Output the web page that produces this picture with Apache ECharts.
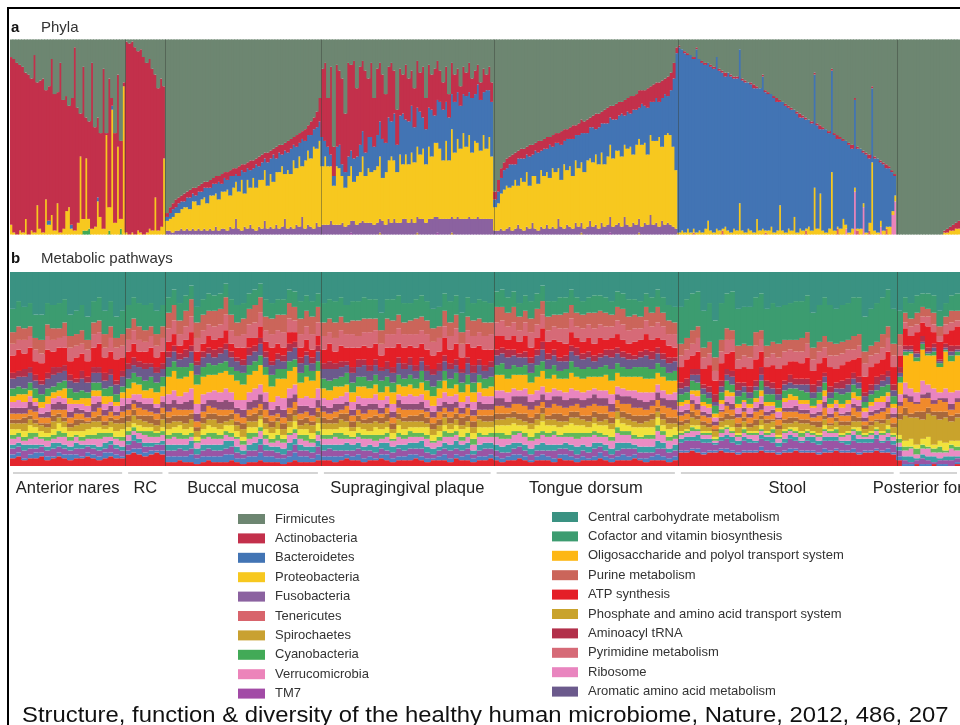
<!DOCTYPE html>
<html><head><meta charset="utf-8">
<script src="https://cdn.jsdelivr.net/npm/echarts@6/dist/echarts.min.js"></script>
<style>html,body{margin:0;padding:0;background:#fff;}#chart{width:960px;height:725px;}</style>
</head><body><div id="chart"></div>
<script>
// ---------------- categories ----------------
const sites = ['Anterior nares','RC','Buccal mucosa','Supragingival plaque','Tongue dorsum','Stool','Posterior fornix'];
const phylaSamplesPerSite = [40,14,54,60,64,76,22];
const pathwaySamplesPerSite = [20,7,27,30,32,38,11];

// ---------------- panel a: phyla (% of sample) ----------------
const actinobacteria = [
 86,89,88,85,85,75,82,78,91,63,76,79,56,69,80,70,57,87,66,59,52,65,94,59,22,78,21,50,85,51,41,43,82,1,66,4,46,37,40,2,
 98,98,98,96,92,94,91,87,87,83,63,73,76,37,
 2,3,3,4,3,3,4,3,4,3,4,3,4,3,3,4,3,4,3,5,3,4,3,4,3,5,3,4,3,5,4,3,5,4,3,5,4,3,6,4,5,4,6,5,4,6,5,4,6,5,7,6,8,12,
 35,40,25,45,15,42,38,44,30,48,44,50,35,40,36,42,30,38,25,34,30,33,25,26,30,22,18,24,20,28,22,18,20,24,20,26,16,22,18,24,20,16,14,18,12,16,14,12,10,14,12,15,10,12,10,9,12,8,12,10,
 4,6,5,4,5,4,5,6,4,5,5,4,6,5,4,6,5,5,6,4,6,5,5,7,6,5,6,7,5,6,7,6,7,5,6,8,7,6,7,8,6,7,8,7,6,8,7,9,7,8,9,7,8,10,8,9,8,10,9,8,10,9,8,3,
 1,0,1,1,0,1,1,0,1,1,0,1,1,0,1,1,2,0,1,1,1,0,1,1,0,1,2,1,0,1,1,1,0,1,2,1,0,1,1,1,0,1,2,1,1,0,1,1,1,2,1,0,1,1,1,2,1,1,0,1,2,1,1,0,1,1,2,1,1,0,1,1,2,1,1,1,
 0,0,0,0,0,0,0,0,0,0,0,0,0,0,0,0,1,2,2,3,3,4
];
const bacteroidetes = [
 0,0,0,0,0,0,0,0,0,0,0,0,0,2,0,0,0,0,0,0,0,2,0,0,0,0,0,0,0,0,2,0,0,0,0,2,0,0,0,0,
 0,0,0,0,0,0,0,0,0,0,0,0,0,0,
 2,3,4,3,5,4,3,5,6,4,3,7,4,5,8,4,6,5,9,4,7,5,10,6,4,8,5,11,6,9,5,12,7,9,6,12,8,14,7,10,6,12,9,13,8,11,7,14,10,8,12,9,11,10,
 15,8,10,6,5,10,12,6,8,10,8,12,10,14,13,12,16,18,12,16,18,20,15,22,18,24,14,20,26,18,22,24,18,20,22,16,18,20,24,14,22,24,26,20,22,18,26,24,22,20,26,22,28,24,30,26,22,30,24,28,
 4,6,8,10,9,12,11,8,14,10,12,9,15,11,13,16,10,14,12,17,11,15,13,18,12,16,14,19,13,17,15,20,14,16,18,13,19,15,21,17,14,20,16,18,22,15,19,17,23,18,16,21,19,24,17,20,22,18,25,21,19,23,35,60,
 95,93,92,89,91,87,94,88,87,84,81,84,84,88,82,80,77,81,80,77,78,79,77,77,75,75,74,67,73,78,71,70,68,69,66,53,66,65,62,62,55,61,57,58,56,55,55,58,53,33,52,53,49,52,49,45,46,40,43,45,41,45,41,41,26,40,33,38,37,38,30,34,30,30,20,10,
 0,0,0,0,0,0,0,0,0,0,0,0,0,0,0,0,0,0,0,0,0,0
];
const proteobacteria = [
 5,1,0,2,1,8,0,2,1,15,3,1,18,5,10,2,16,1,3,12,14,3,2,6,40,6,37,5,3,4,17,9,3,51,12,64,6,45,5,76,
 1,0,1,0,2,1,0,1,3,2,19,2,4,39,
 5,6,8,9,9,10,12,11,11,14,15,12,16,16,14,17,18,17,16,19,19,21,16,21,19,19,26,17,25,19,26,22,24,25,26,22,27,24,27,29,31,23,30,27,35,29,36,26,35,38,35,42,38,44,
 30,35,30,28,20,30,29,24,20,25,28,20,25,26,33,24,28,26,28,29,32,22,27,30,34,30,26,35,28,33,30,34,31,36,33,36,30,37,32,38,38,36,30,40,30,45,34,40,36,44,37,42,34,40,38,35,43,36,42,32,
 12,14,18,21,22,20,23,25,20,26,25,28,22,24,27,24,29,27,27,26,30,29,26,24,33,28,31,27,32,30,31,29,34,32,33,36,33,36,32,35,37,35,38,37,36,37,39,41,35,41,41,42,41,36,41,43,42,46,38,46,46,46,41,30,
 1,2,1,3,1,2,1,2,1,3,7,2,1,3,2,1,4,2,1,3,2,16,2,1,3,2,1,8,2,3,1,2,4,1,2,15,2,1,3,2,9,1,3,2,1,4,2,24,3,21,2,1,3,32,2,1,3,8,2,1,3,2,1,3,2,1,4,37,2,1,3,2,1,4,2,3,
 0,0,0,0,0,0,0,0,0,0,0,0,0,0,0,0,1,1,2,2,3,3
];
const fusobacteria = [
 0,0,0,0,0,0,0,0,0,0,0,0,0,0,0,0,0,0,0,0,0,0,0,0,0,0,0,0,0,0,0,0,0,0,0,0,0,0,0,0,
 0,0,0,0,0,0,0,0,0,0,0,0,0,0,
 2,2,1,2,2,3,2,3,2,3,2,3,2,3,2,3,2,4,2,3,3,2,4,3,8,3,2,4,3,5,3,2,4,3,7,3,4,3,5,3,4,8,3,4,3,5,4,9,3,5,4,3,6,4,
 5,5,5,7,5,5,5,6,4,5,6,7,5,6,7,6,6,6,5,6,7,7,5,8,6,8,6,6,8,8,6,8,6,8,8,8,6,8,8,9,8,8,8,8,8,8,8,9,8,8,8,9,8,8,9,8,8,8,8,8,
 2,2,3,2,3,4,2,3,5,3,2,4,3,6,3,2,4,3,5,3,4,3,8,4,3,5,4,3,6,4,5,3,4,7,4,5,3,6,4,5,8,4,5,6,4,9,5,4,6,5,7,4,6,5,10,5,6,4,7,5,6,5,4,3,
 0,0,0,0,0,0,0,0,0,0,0,0,0,0,0,0,0,0,0,0,0,0,0,0,0,0,0,0,0,0,0,0,0,0,0,0,0,0,0,0,0,0,0,0,0,0,0,0,0,0,0,0,0,0,0,0,0,0,0,0,0,0,0,0,0,0,0,0,0,0,0,0,0,0,0,0,
 0,0,0,0,0,0,0,0,0,0,0,0,0,0,0,0,0,0,0,0,0,0
];
const tenericutes = [
 0,0,0,0,0,0,0,0,0,0,0,0,0,0,0,0,0,0,0,0,0,0,0,0,0,0,0,0,0,0,0,0,0,0,0,0,0,0,0,0,
 0,0,0,0,0,0,0,0,0,0,0,0,0,0,
 0,0,0,0,0,0,0,0,0,0,0,0,0,0,0,0,0,0,0,0,0,0,0,0,0,0,0,0,0,0,0,0,0,0,0,0,0,0,0,0,0,0,0,0,0,0,0,0,0,0,0,0,0,0,
 0,0,0,0,0,0,0,0,0,0,0,0,0,0,0,0,0,0,0,0,0,0,0,0,0,0,0,0,0,0,0,0,0,0,0,0,0,0,0,0,0,0,0,0,0,0,0,0,0,0,0,0,0,0,0,0,0,0,0,0,
 0,0,0,0,0,0,0,0,0,0,0,0,0,0,0,0,0,0,0,0,0,0,0,0,0,0,0,0,0,0,0,0,0,0,0,0,0,0,0,0,0,0,0,0,0,0,0,0,0,0,0,0,0,0,0,0,0,0,0,0,0,0,0,0,
 0,0,0,0,0,1,0,0,0,0,0,0,0,0,0,2,0,0,0,0,0,0,0,0,0,0,0,0,0,0,1,0,0,0,0,0,0,0,0,0,0,0,0,0,2,0,0,0,0,0,0,0,0,0,0,3,0,0,0,0,0,0,2,0,0,0,2,0,0,0,0,0,3,0,0,0,
 0,0,0,0,0,0,0,0,0,0,0,0,0,0,0,0,0,0,0,0,0,0
];
const spirochaetes = [
 0,0,0,0,0,0,0,0,0,0,0,0,0,0,0,0,0,0,0,0,0,0,0,0,0,0,0,0,0,0,0,0,0,0,0,0,0,0,0,0,
 0,0,0,0,0,0,0,0,0,0,0,0,0,0,
 0,0,0,0,0,0,0,0,0,0,0,0,0,0,0,0,0,0,0,0,0,0,0,0,0,0,0,0,0,0,0,0,0,0,0,0,0,0,0,0,0,0,0,0,0,0,0,0,0,0,0,0,0,0,
 0,0,0,0,0,0,0,0,0,0,0,0,0,0,0,0,0,0,0,0,1,0,0,0,0,0,0,0,0,0,0,0,0,1,0,0,0,0,0,0,0,0,0,0,0,1,0,0,0,0,0,0,0,0,0,0,0,0,0,0,
 0,0,0,0,0,0,0,0,0,0,0,0,0,0,0,0,0,0,0,0,0,0,0,0,0,0,0,0,0,0,1,0,0,0,0,0,0,0,0,0,0,0,0,0,0,0,0,0,0,0,1,0,0,0,0,0,0,0,0,0,0,0,0,0,
 0,0,0,0,0,0,0,0,0,0,0,0,0,0,0,0,0,0,0,0,0,0,0,0,0,0,0,0,0,0,0,0,0,0,0,0,0,0,0,0,0,0,0,0,0,0,0,0,0,0,0,0,0,0,0,0,0,0,0,0,0,0,0,0,0,0,0,0,0,0,0,0,0,0,0,0,
 0,0,0,0,0,0,0,0,0,0,0,0,0,0,0,0,0,0,0,0,0,0
];
const cyanobacteria = [
 0,0,0,0,0,0,0,0,0,0,0,0,0,0,0,0,0,0,0,0,0,0,0,0,0,2,2,3,0,0,0,0,0,0,2,0,0,0,3,0,
 0,0,0,0,0,0,0,0,0,0,0,0,0,0,
 0,0,0,0,0,0,0,0,0,0,0,0,0,0,0,0,0,0,0,0,0,0,0,0,0,0,0,0,0,0,0,0,0,0,0,0,0,0,0,0,0,0,0,0,0,0,0,0,0,0,0,0,0,0,
 0,0,0,0,0,0,0,0,0,0,0,0,0,0,0,0,0,0,0,0,0,0,0,0,0,0,0,0,0,0,0,0,0,0,0,0,0,0,0,0,0,0,0,0,0,0,0,0,0,0,0,0,0,0,0,0,0,0,0,0,
 0,0,0,0,0,0,0,0,0,0,0,0,0,0,0,0,0,0,0,0,0,0,0,0,0,0,0,0,0,0,0,0,0,0,0,0,0,0,0,0,0,0,0,0,0,0,0,0,0,0,0,0,0,0,0,0,0,0,0,0,0,0,0,0,
 0,0,0,0,0,0,0,0,0,0,0,0,0,0,0,0,0,0,0,0,0,0,0,0,0,0,0,0,0,0,0,0,0,0,0,0,0,0,0,0,0,0,0,0,0,0,0,0,0,0,0,0,0,0,0,0,0,0,0,0,0,0,0,0,0,0,0,0,0,0,0,0,0,0,0,0,
 0,0,0,0,0,0,0,0,0,0,0,0,0,0,0,0,0,0,0,0,0,0
];
const verrucomicrobia = [
 0,0,0,0,0,0,0,0,0,0,0,0,0,0,0,0,0,0,0,0,0,0,0,0,0,0,0,0,0,0,0,0,0,0,0,0,0,0,0,0,
 0,0,0,0,0,0,0,0,0,0,0,0,0,0,
 0,0,0,0,0,0,0,0,0,0,0,0,0,0,0,0,0,0,0,0,0,0,0,0,0,0,0,0,0,0,0,0,0,0,0,0,0,0,0,0,0,0,0,0,0,0,0,0,0,0,0,0,0,0,
 0,0,0,0,0,0,0,0,0,0,0,0,0,0,0,0,0,0,0,0,0,0,0,0,0,0,0,0,0,0,0,0,0,0,0,0,0,0,0,0,0,0,0,0,0,0,0,0,0,0,0,0,0,0,0,0,0,0,0,0,
 0,0,0,0,0,0,0,0,0,0,0,0,0,0,0,0,0,0,0,0,0,0,0,0,0,0,0,0,0,0,0,0,0,0,0,0,0,0,0,0,0,0,0,0,0,0,0,0,0,0,0,0,0,0,0,0,0,0,0,0,0,0,0,0,
 0,0,0,0,0,0,0,0,0,0,0,0,0,0,0,0,0,0,0,0,0,0,0,0,0,0,0,0,0,0,0,0,0,0,0,0,0,0,0,0,0,0,0,0,0,0,0,0,0,0,0,0,0,0,0,0,0,0,3,0,0,22,0,0,14,0,0,0,0,0,4,0,0,0,10,17,
 0,0,0,0,0,0,0,0,0,0,0,0,0,0,0,0,0,0,0,0,0,0
];
const tm7 = [
 0,0,0,0,0,0,0,0,0,0,0,0,0,0,0,0,0,0,0,0,0,0,0,0,0,0,0,0,0,0,0,0,0,0,0,0,0,0,0,0,
 0,0,0,0,0,0,0,0,0,0,0,0,0,0,
 0,0,0,0,0,0,0,0,0,0,0,0,0,0,0,0,0,0,0,0,0,0,0,0,0,0,0,0,0,0,0,0,0,0,0,0,0,0,0,0,0,0,0,0,0,0,0,0,0,0,0,0,0,0,
 0,0,0,0,0,0,0,0,0,0,1,0,0,0,0,0,0,0,0,0,0,0,0,0,0,0,0,0,0,0,0,0,0,0,0,0,0,0,0,0,1,0,0,0,0,0,0,0,0,0,0,0,0,0,0,0,0,0,0,0,
 0,0,0,0,0,0,0,0,0,0,0,0,0,0,0,0,0,0,0,0,0,0,0,0,0,0,0,0,0,0,0,0,0,0,0,0,0,0,0,0,1,0,0,0,0,0,0,0,0,0,0,0,0,0,0,0,0,0,0,0,0,0,0,0,
 0,0,0,0,0,0,0,0,0,0,0,0,0,0,0,0,0,0,0,0,0,0,0,0,0,0,0,0,0,0,0,0,0,0,0,0,0,0,0,0,0,0,0,0,0,0,0,0,0,0,0,0,0,0,0,0,0,0,0,0,0,0,0,0,0,0,0,0,0,0,0,0,0,0,0,0,
 0,0,0,0,0,0,0,0,0,0,0,0,0,0,0,0,0,0,0,0,0,0
];

// ---------------- panel b: metabolic pathway layers (% of sample), bottom band first ----------------
const pwOtherRed = [4,5,3,4,4,5,3,4,5,4,3,4,4,5,4,3,4,5,4,4, 6,7,6,5,6,7,6, 2,2,3,2,2,1,2,3,2,2,2,3,2,1,2,2,3,2,2,2,1,2,3,2,2,2,3, 3,3,2,3,4,3,3,2,3,3,4,3,2,3,3,3,4,3,2,3,3,3,2,4,3,3,2,3,3,4, 3,2,3,3,4,3,2,3,3,3,2,4,3,3,2,3,3,3,4,3,2,3,3,3,4,3,2,3,3,3,2,3, 7,7,8,7,6,7,7,8,7,7,6,7,7,7,8,7,7,6,7,7,8,7,7,7,6,7,7,8,7,7,7,6,7,7,8,7,7,6, 3,0,0,1,0,0,1,0,0,0,1];
const pwOtherBlue = [2,2,1,2,3,2,2,1,2,2,3,2,1,2,2,2,3,2,2,1, 2,2,3,2,2,1,2, 3,3,2,3,4,3,3,2,3,3,4,3,2,3,3,3,4,3,3,2,3,3,4,3,3,2,3, 2,2,3,2,2,2,3,2,2,1,2,3,2,2,2,3,2,2,2,1,2,3,2,2,2,3,2,2,2,2, 2,2,2,3,2,2,1,2,3,2,2,2,3,2,2,2,1,2,3,2,2,2,3,2,2,1,2,2,3,2,2,2, 1,1,1,2,1,1,1,1,2,1,1,1,1,1,2,1,1,1,1,2,1,1,1,1,1,2,1,1,1,1,2,1,1,1,1,1,2,1, 2,1,1,0,1,1,0,1,1,0,1];
const pwOtherPurple = [3,3,4,3,2,3,3,4,3,3,2,3,4,3,3,3,2,4,3,3, 3,4,3,3,2,3,3, 3,3,4,3,3,2,3,4,3,3,3,4,3,2,3,3,4,3,3,3,2,3,4,3,3,3,4, 3,4,3,3,2,3,3,4,3,3,3,2,3,4,3,3,3,4,3,2,3,3,4,3,3,3,2,3,4,3, 3,3,2,3,4,3,3,3,2,3,4,3,3,3,2,3,3,4,3,3,2,3,3,4,3,3,3,2,3,4,3,3, 4,5,4,4,5,4,3,4,5,4,4,5,4,4,4,5,4,3,4,5,4,4,5,4,4,4,5,4,4,3,4,5,4,4,5,4,4,4, 3,2,1,2,3,2,1,2,2,3,2];
const pwOtherTeal = [2,2,3,2,2,1,2,3,2,2,2,3,2,1,2,2,3,2,2,2, 2,3,2,2,2,1,2, 3,3,2,3,4,3,3,2,3,3,4,3,3,2,3,4,3,3,2,3,3,4,3,3,2,3,3, 3,2,3,3,4,3,3,2,3,3,3,4,3,2,3,3,3,4,3,3,2,3,3,4,3,3,2,3,3,3, 3,3,4,3,2,3,3,3,4,3,3,2,3,3,4,3,3,3,2,3,3,4,3,3,2,3,3,3,4,3,2,3, 2,2,2,3,2,2,1,2,2,3,2,2,2,1,2,2,3,2,2,2,2,1,2,3,2,2,2,2,1,2,3,2,2,2,2,1,2,2, 2,2,3,1,2,2,3,1,2,2,1];
const pwOtherPink = [3,3,2,3,4,3,3,2,3,4,3,3,2,3,3,4,3,2,3,3, 3,2,3,4,3,3,3, 3,4,3,3,2,3,3,4,3,3,3,2,4,3,3,3,4,3,2,3,3,4,3,3,3,2,3, 3,3,4,3,2,3,3,4,3,3,2,3,3,4,3,3,3,2,4,3,3,3,4,3,2,3,3,4,3,3, 4,4,3,4,5,4,4,3,4,4,5,4,3,4,4,4,5,4,3,4,4,5,4,4,3,4,4,4,5,4,4,3, 2,2,3,2,2,2,1,2,3,2,2,2,2,3,2,1,2,2,3,2,2,2,2,1,2,3,2,2,2,3,2,2,1,2,2,3,2,2, 2,3,4,2,3,4,2,3,2,4,3];
const pwOtherGreen = [2,2,2,3,2,1,2,2,3,2,2,1,2,2,2,3,2,2,1,2, 2,2,1,2,3,2,2, 2,2,3,2,2,1,2,2,3,2,2,2,1,2,3,2,2,2,2,3,2,1,2,2,3,2,2, 2,2,2,3,2,1,2,2,2,3,2,2,1,2,2,3,2,2,2,1,2,3,2,2,2,2,3,2,1,2, 2,3,2,2,1,2,2,3,2,2,2,1,2,2,3,2,2,2,2,1,2,3,2,2,2,1,2,2,3,2,2,2, 1,1,2,1,1,1,1,2,1,1,1,2,1,1,1,1,2,1,1,1,1,2,1,1,1,1,1,2,1,1,1,2,1,1,1,1,2,1, 2,2,1,3,2,1,2,3,1,2,2];
const pwOtherYellow = [3,2,3,4,3,3,2,3,4,3,3,2,3,3,4,3,2,3,3,4, 2,2,3,2,2,1,2, 3,3,4,3,3,2,3,4,3,3,3,4,3,2,3,3,4,3,3,3,2,3,4,3,3,3,4, 3,3,2,3,4,3,3,3,2,4,3,3,3,4,3,2,3,3,4,3,3,3,2,3,4,3,3,3,4,3, 4,4,5,4,3,4,4,4,5,4,3,4,4,5,4,4,3,4,4,5,4,4,4,3,4,5,4,4,4,3,4,4, 1,1,1,2,1,1,1,1,1,2,1,1,1,1,2,1,1,1,1,1,2,1,1,1,1,2,1,1,1,1,1,2,1,1,1,1,2,1, 2,3,4,2,3,5,2,3,4,2,3];
const pwPhosphateAminoTransport = [3,3,4,3,2,3,3,4,3,3,2,3,4,3,3,3,2,3,4,3, 3,4,3,3,2,3,4, 3,3,2,3,4,3,3,3,4,3,2,3,3,4,3,3,2,3,3,4,3,3,3,2,3,4,3, 3,3,3,4,3,2,3,3,4,3,3,3,2,3,4,3,3,3,2,3,3,4,3,3,2,3,3,4,3,3, 3,3,4,3,3,2,3,3,4,3,3,3,2,3,4,3,3,3,2,3,3,4,3,3,3,2,3,4,3,3,3,2, 3,3,4,3,3,2,3,3,3,4,3,3,2,3,3,4,3,3,3,2,3,4,3,3,3,3,2,3,4,3,3,3,2,3,3,4,3,3, 8,13,11,14,10,12,15,11,13,10,12];
const pwOtherBrown = [2,2,3,2,2,1,2,3,2,2,2,3,2,1,2,3,2,2,2,3, 3,3,2,3,4,3,3, 3,3,3,4,3,2,3,3,3,4,3,3,2,3,3,4,3,3,3,2,3,4,3,3,3,2,3, 3,2,3,3,4,3,3,2,3,3,3,4,3,3,2,3,3,4,3,3,3,2,3,3,4,3,3,2,3,3, 3,3,2,3,3,4,3,3,3,2,3,4,3,3,3,2,3,3,4,3,3,2,3,3,3,4,3,3,2,3,3,3, 2,2,3,2,2,2,1,2,3,2,2,2,2,3,2,2,1,2,2,3,2,2,2,2,3,2,1,2,2,2,3,2,2,2,1,2,3,2, 3,4,2,3,4,3,2,4,3,3,2];
const pwOtherOrange = [3,3,2,3,4,3,3,3,2,4,3,3,3,2,3,4,3,3,2,3, 3,3,4,3,2,3,3, 3,4,3,3,2,3,3,4,3,3,3,2,4,3,3,3,3,4,3,2,3,3,4,3,3,3,2, 3,3,3,2,4,3,3,3,4,3,2,3,3,3,4,3,3,2,3,3,4,3,3,3,2,4,3,3,3,3, 4,4,3,4,5,4,4,4,3,4,5,4,4,3,4,4,5,4,4,4,3,4,4,5,4,4,3,4,4,4,5,4, 3,3,4,3,3,3,2,3,4,3,3,3,3,4,3,2,3,3,4,3,3,3,3,2,3,4,3,3,3,3,4,3,2,3,3,4,3,3, 4,5,6,4,7,5,4,6,5,3,6];
const pwOtherPlum = [3,3,3,4,3,2,3,3,4,3,3,3,2,3,4,3,3,3,2,3, 3,2,3,3,4,3,3, 4,4,3,4,5,4,4,3,4,4,5,4,3,4,4,4,5,4,3,4,4,5,4,4,3,4,4, 3,3,4,3,2,3,3,4,3,3,3,2,3,4,3,3,3,4,2,3,3,3,4,3,3,2,3,4,3,3, 4,4,3,4,4,5,4,3,4,4,4,5,4,4,3,4,4,5,4,4,4,3,4,4,5,4,4,3,4,4,4,5, 2,2,2,3,2,2,2,1,2,3,2,2,2,2,3,2,2,1,2,2,3,2,2,2,2,3,2,2,1,2,2,3,2,2,2,2,3,2, 2,2,3,1,2,3,2,1,2,3,2];
const pwRibosome = [3,4,3,3,2,3,4,3,3,3,4,2,3,3,4,3,3,2,3,4, 3,3,4,3,3,2,3, 5,5,4,5,6,5,5,4,5,5,6,5,4,5,5,6,5,5,4,5,6,5,5,4,5,5,6, 4,4,3,4,5,4,4,4,3,5,4,4,4,3,4,5,4,4,4,3,4,5,4,4,3,4,4,5,4,4, 4,4,5,4,3,4,4,5,4,4,4,3,4,5,4,4,4,3,4,4,5,4,4,3,4,4,5,4,4,4,3,4, 3,3,3,4,3,3,2,3,3,4,3,3,3,3,4,3,2,3,3,4,3,3,3,3,4,3,3,2,3,4,3,3,3,3,4,3,3,3, 4,6,4,5,7,4,6,3,5,6,4];
const pwOligosaccharideTransport = [3,3,4,3,2,3,4,3,3,5,3,2,3,4,3,3,4,3,2,3, 5,6,5,4,5,6,5, 9,10,9,8,9,10,9,9,8,10,9,9,10,8,9,9,10,9,8,9,10,9,9,8,10,9,9, 5,5,6,5,4,5,5,6,5,5,4,5,6,5,5,5,4,6,5,5,5,6,4,5,5,6,5,5,4,5, 8,8,7,7,8,7,6,7,8,7,7,6,7,8,7,7,7,6,7,8,7,7,6,7,7,8,7,7,6,7,7,6, 2,2,2,3,2,2,2,2,3,2,2,1,2,2,3,2,2,2,2,3,2,2,2,1,2,3,2,2,2,2,3,2,2,2,2,3,2,2, 6,14,18,16,16,15,17,13,19,16,18];
const pwOtherGreen2 = [4,4,3,4,5,4,4,3,4,4,5,4,4,3,4,4,4,5,4,3, 5,5,4,5,6,5,5, 5,5,6,5,4,5,5,6,5,5,5,4,5,6,5,5,5,4,6,5,5,5,4,5,6,5,5, 5,5,4,5,6,5,5,5,4,5,6,5,5,5,4,5,5,6,5,5,4,5,5,6,5,5,5,4,5,5, 5,6,5,5,4,5,5,6,5,5,5,4,5,6,5,5,5,4,5,5,6,5,5,4,5,5,6,5,5,5,4,5, 4,4,5,4,4,3,4,4,5,4,4,4,3,4,5,4,4,4,4,3,4,5,4,4,4,4,3,4,5,4,4,4,3,4,4,5,4,4, 3,2,1,2,3,1,2,2,1,3,2];
const pwAromaticAmino = [5,5,6,5,4,5,5,6,5,5,4,5,6,5,5,5,4,6,5,5, 5,4,5,6,5,5,4, 5,5,4,5,6,5,5,5,4,5,6,5,5,4,5,5,6,5,5,5,4,5,6,5,5,4,5, 5,6,5,5,4,5,5,6,5,5,5,4,5,6,5,5,4,5,5,6,5,5,5,4,5,6,5,5,4,5, 5,5,6,5,5,4,5,5,6,5,5,5,4,5,6,5,5,4,5,5,6,5,5,5,4,5,6,5,5,4,5,5, 3,3,3,4,3,3,2,3,3,4,3,3,3,2,3,4,3,3,3,3,2,3,4,3,3,3,3,2,3,4,3,3,3,2,3,3,4,3, 2,1,1,2,1,1,2,1,1,2,1];
const pwAminoacylTRNA = [3,3,4,3,3,2,3,4,3,3,3,2,4,3,3,3,4,3,2,3, 3,4,3,3,2,3,3, 3,3,3,4,3,2,3,3,4,3,3,3,2,3,4,3,3,3,2,3,3,4,3,3,2,3,3, 3,4,3,3,2,3,4,3,3,3,2,4,3,3,3,4,3,2,3,3,4,3,3,3,2,3,4,3,3,3, 3,3,4,3,2,3,3,3,4,3,3,2,3,3,4,3,3,3,2,3,4,3,3,3,2,3,3,4,3,3,3,2, 3,4,3,3,2,3,4,3,3,3,4,2,3,3,4,3,3,3,2,4,3,3,3,4,3,2,3,3,4,3,3,3,2,3,4,3,3,3, 3,2,2,1,3,2,2,1,2,3,2];
const pwATPSynthesis = [9,11,8,10,7,9,12,8,10,9,7,11,9,8,10,12,8,9,11,7, 6,7,5,6,8,5,6, 5,6,4,5,7,5,4,6,5,5,7,4,5,6,5,4,6,5,7,5,4,6,5,5,6,4,5, 7,9,6,8,7,10,6,7,9,8,6,7,10,7,8,6,9,7,8,7,6,9,7,8,6,7,9,7,8,6, 7,6,5,7,6,8,5,6,7,6,5,8,6,7,5,6,7,6,8,5,6,7,6,5,7,6,8,6,5,7,6,5, 8,10,7,9,8,11,7,9,8,10,7,8,9,11,8,7,9,10,8,7,9,8,11,7,9,8,10,7,8,9,7,10,8,9,7,8,10,9, 6,9,5,10,7,11,6,9,5,8,10];
const pwPyrimidine = [6,5,7,6,6,5,7,6,5,6,7,6,5,6,7,6,5,7,6,6, 6,7,6,5,6,6,7, 7,7,6,7,8,7,7,6,7,7,8,7,6,7,7,8,7,6,7,7,8,7,6,7,7,8,7, 7,6,7,8,7,7,6,7,8,7,6,7,7,8,7,6,7,7,8,7,7,6,7,8,7,7,6,7,7,8, 7,8,7,7,6,7,8,7,7,6,7,7,8,7,6,7,7,8,7,7,6,7,8,7,7,6,7,7,8,7,6,7, 6,5,6,7,6,6,5,6,7,6,5,6,6,7,6,5,6,6,7,6,5,6,7,6,6,5,6,7,6,6,5,6,7,6,5,6,7,6, 5,3,5,4,3,5,4,3,5,4,3];
const pwPurine = [6,7,6,5,6,7,6,6,5,7,6,6,7,5,6,6,7,6,5,6, 6,6,7,6,5,6,6, 8,8,7,8,9,8,8,7,8,8,9,8,7,8,8,9,8,7,8,8,9,8,7,8,8,9,8, 7,7,8,7,6,7,8,7,7,6,7,8,7,7,6,7,8,7,7,7,6,8,7,7,6,7,8,7,7,6, 8,7,7,8,7,6,7,8,7,7,6,7,8,7,7,7,6,8,7,7,6,7,8,7,7,6,7,7,8,7,7,6, 6,6,7,6,5,6,7,6,6,5,7,6,6,7,5,6,6,7,6,5,6,7,6,6,5,6,7,6,6,5,7,6,6,5,6,7,6,6, 6,5,4,6,5,4,6,5,4,6,5];
const pwCofactorVitamin = [12,13,11,12,12,13,11,12,13,12,11,12,13,12,11,12,12,13,11,12, 12,11,12,13,12,12,11, 8,8,9,8,7,8,8,9,8,8,7,8,9,8,8,8,7,9,8,8,8,7,8,9,8,8,7, 10,10,11,10,9,10,10,11,10,10,9,10,11,10,10,9,10,11,10,10,10,9,11,10,10,10,9,10,11,10, 8,9,8,8,7,8,9,8,8,8,7,9,8,8,8,7,8,9,8,8,7,8,8,9,8,8,7,8,9,8,8,8, 19,20,19,18,19,20,19,19,18,20,19,19,20,18,19,19,20,19,18,19,20,19,19,18,19,20,19,18,19,19,20,19,18,19,20,19,19,18, 12,8,8,9,7,8,9,8,7,8,9];

// ---------------- build ----------------
const FONT = '"Liberation Sans", Arial, Helvetica, sans-serif';
const total = a => a.reduce((s, v) => s + v, 0);
const nPhyla = total(phylaSamplesPerSite);
const nPath = total(pathwaySamplesPerSite);
const phylaIds = Array.from({length: nPhyla}, (_, i) => 'S' + (i + 1));
const pathIds = Array.from({length: nPath}, (_, i) => 'P' + (i + 1));

const phylaMinor = [verrucomicrobia, tenericutes, cyanobacteria, spirochaetes, tm7, fusobacteria, proteobacteria, bacteroidetes, actinobacteria];
// Firmicutes fills the rest of each 100% bar
const firmicutes = actinobacteria.map((_, i) => 100 - phylaMinor.reduce((s, arr) => s + arr[i], 0));

const phylaStack = [
  ['Verrucomicrobia', verrucomicrobia, '#ec84ba'],
  ['Tenericutes', tenericutes, '#d8646c'],
  ['Cyanobacteria', cyanobacteria, '#42aa57'],
  ['Spirochaetes', spirochaetes, '#c9a131'],
  ['TM7', tm7, '#a24ba6'],
  ['Fusobacteria', fusobacteria, '#8b62a0'],
  ['Proteobacteria', proteobacteria, '#f7c81f'],
  ['Bacteroidetes', bacteroidetes, '#4274b4'],
  ['Actinobacteria', actinobacteria, '#c3304b'],
  ['Firmicutes', firmicutes, '#6d8671']
];
const phylaLegend = ['Firmicutes','Actinobacteria','Bacteroidetes','Proteobacteria','Fusobacteria','Tenericutes','Spirochaetes','Cyanobacteria','Verrucomicrobia','TM7'];

const pathLower = [pwOtherRed, pwOtherBlue, pwOtherPurple, pwOtherTeal, pwOtherPink, pwOtherGreen, pwOtherYellow, pwPhosphateAminoTransport, pwOtherBrown, pwOtherOrange, pwOtherPlum, pwRibosome, pwOligosaccharideTransport, pwOtherGreen2, pwAromaticAmino, pwAminoacylTRNA, pwATPSynthesis, pwPyrimidine, pwPurine, pwCofactorVitamin];
const pwCentralCarbohydrate = pwOtherRed.map((_, i) => 100 - pathLower.reduce((s, arr) => s + arr[i], 0));

const pathStack = [
  ['Other pathways 1', pwOtherRed, '#e3262d'],
  ['Other pathways 2', pwOtherBlue, '#4d7fc0'],
  ['Other pathways 3', pwOtherPurple, '#9a55a5'],
  ['Other pathways 4', pwOtherTeal, '#3a9fa6'],
  ['Other pathways 5', pwOtherPink, '#ea8cc4'],
  ['Other pathways 6', pwOtherGreen, '#62b85a'],
  ['Other pathways 7', pwOtherYellow, '#f1e23c'],
  ['Phosphate and amino acid transport system', pwPhosphateAminoTransport, '#c9a32c'],
  ['Other pathways 8', pwOtherBrown, '#a8683c'],
  ['Other pathways 9', pwOtherOrange, '#f08a2c'],
  ['Other pathways 10', pwOtherPlum, '#8e4f78'],
  ['Ribosome', pwRibosome, '#e985bf'],
  ['Oligosaccharide and polyol transport system', pwOligosaccharideTransport, '#fdb714'],
  ['Other pathways 11', pwOtherGreen2, '#43a95a'],
  ['Aromatic amino acid metabolism', pwAromaticAmino, '#6b5a8c'],
  ['Aminoacyl tRNA', pwAminoacylTRNA, '#b2304a'],
  ['ATP synthesis', pwATPSynthesis, '#e41f27'],
  ['Pyrimidine metabolism', pwPyrimidine, '#d66a77'],
  ['Purine metabolism', pwPurine, '#cb655a'],
  ['Cofactor and vitamin biosynthesis', pwCofactorVitamin, '#3c9c70'],
  ['Central carbohydrate metabolism', pwCentralCarbohydrate, '#3a9282']
];
const pathLegend = ['Central carbohydrate metabolism','Cofactor and vitamin biosynthesis','Oligosaccharide and polyol transport system','Purine metabolism','ATP synthesis','Phosphate and amino acid transport system','Aminoacyl tRNA','Pyrimidine metabolism','Ribosome','Aromatic amino acid metabolism'];

function starts(counts) { const r = []; let c = 0; counts.forEach(n => { r.push(c); c += n; }); return r; }
const phylaStarts = starts(phylaSamplesPerSite);
const pathStarts = starts(pathwaySamplesPerSite);

function barSeries(stackName, xi, def, width) {
  return { type: 'bar', name: def[0], stack: stackName, xAxisIndex: xi, yAxisIndex: xi,
    data: def[1], barWidth: width, itemStyle: { color: def[2] }, silent: true,
    emphasis: { disabled: true }, animation: false };
}
function separatorSeries(xi, ids, startIdx, alpha) {
  return { type: 'custom', xAxisIndex: xi, yAxisIndex: xi, silent: true, z: 5, animation: false,
    data: startIdx.slice(1).map(s => [ids[s], 0]),
    renderItem: (params, api) => {
      const p = api.coord([api.value(0), 0]);
      const half = api.size([1, 0])[0] / 2;
      const cs = params.coordSys;
      const x = Math.round(p[0] - half) + 0.5;
      return { type: 'line', shape: { x1: x, y1: cs.y, x2: x, y2: cs.y + cs.height },
        style: { stroke: 'rgba(55,65,55,' + alpha + ')', lineWidth: 1 } };
    } };
}

const series = [];
phylaStack.forEach(d => series.push(barSeries('phyla', 0, d, '140%')));
pathStack.forEach(d => series.push(barSeries('pathways', 1, d, '120%')));
series.push(separatorSeries(0, phylaIds, phylaStarts, 0.45));
series.push(separatorSeries(1, pathIds, pathStarts, 0.55));
series.push({ type: 'custom', xAxisIndex: 2, yAxisIndex: 2, silent: true, animation: false,
  data: sites.map((s, i) => [phylaIds[phylaStarts[i]], 0]),
  renderItem: (params, api) => {
    const a = api.coord([api.value(0), 0]);
    const band = api.size([1, 0])[0];
    const cs = params.coordSys;
    const x1 = a[0] - band / 2 + 3;
    const x2 = a[0] - band / 2 + phylaSamplesPerSite[params.dataIndex] * band - 3;
    return { type: 'group', children: [
      { type: 'line', shape: { x1: x1, y1: cs.y, x2: x2, y2: cs.y }, style: { stroke: '#d4d4d4', lineWidth: 2 } },
      { type: 'text', style: { text: sites[params.dataIndex], x: (x1 + x2) / 2, y: cs.y + 15, align: 'center', verticalAlign: 'middle', fontSize: 16.5, fontFamily: FONT, fill: '#222' } }
    ] };
  } });

// data length check (debug)
const problems = [];
[actinobacteria, bacteroidetes, proteobacteria, fusobacteria, tenericutes, spirochaetes, cyanobacteria, verrucomicrobia, tm7].forEach((a, i) => { if (a.length !== nPhyla) problems.push('phy' + i + ':' + a.length); });
pathLower.forEach((a, i) => { if (a.length !== nPath) problems.push('pw' + i + ':' + a.length); });
firmicutes.forEach((v, i) => { if (v < 0) problems.push('firmNeg' + i); });
pwCentralCarbohydrate.forEach((v, i) => { if (v < 0) problems.push('centNeg' + i); });

const legendBase = { orient: 'vertical', icon: 'rect', itemHeight: 10, itemGap: 5.4, selectedMode: false, padding: 0,
  textStyle: { fontSize: 13, color: '#333', fontFamily: FONT, lineHeight: 14, padding: [0, 0, 0, 5] } };

const option = {
  animation: false,
  backgroundColor: '#fff',
  grid: [
    { left: 10, right: -2, top: 39.5, height: 195 },
    { left: 10, right: -2, top: 272, height: 194 },
    { left: 10, right: -2, top: 473, height: 10 }
  ],
  xAxis: [
    { type: 'category', gridIndex: 0, data: phylaIds, show: false },
    { type: 'category', gridIndex: 1, data: pathIds, show: false },
    { type: 'category', gridIndex: 2, data: phylaIds, show: false }
  ],
  yAxis: [
    { type: 'value', gridIndex: 0, min: 0, max: 100, show: false },
    { type: 'value', gridIndex: 1, min: 0, max: 100, show: false },
    { type: 'value', gridIndex: 2, min: 0, max: 1, show: false }
  ],
  legend: [
    Object.assign({}, legendBase, { data: phylaLegend, left: 238, top: 512, itemWidth: 27 }),
    Object.assign({}, legendBase, { data: pathLegend, left: 552, top: 510, itemWidth: 26 })
  ],
  graphic: [
    { type: 'text', x: 11, y: 28, silent: true, style: { text: 'a', font: 'bold 15px ' + FONT, fill: '#111', verticalAlign: 'middle' } },
    { type: 'text', x: 41, y: 28, silent: true, style: { text: 'Phyla', font: '15px ' + FONT, fill: '#333', verticalAlign: 'middle' } },
    { type: 'text', x: 11, y: 259, silent: true, style: { text: 'b', font: 'bold 15px ' + FONT, fill: '#111', verticalAlign: 'middle' } },
    { type: 'text', x: 41, y: 259, silent: true, style: { text: 'Metabolic pathways', font: '15px ' + FONT, fill: '#333', verticalAlign: 'middle' } },
    { type: 'text', x: 22, y: 716, scaleX: 1.084, silent: true, style: { text: 'Structure, function & diversity of the healthy human microbiome, Nature, 2012, 486, 207', font: '22px ' + FONT, fill: '#111', verticalAlign: 'middle' } },
    { type: 'rect', silent: true, z: 100, shape: { x: 8, y: 8, width: 1200, height: 1200 }, style: { fill: 'none', stroke: '#000', lineWidth: 2 } }
  ].concat(problems.length ? [{ type: 'text', x: 300, y: 300, z: 200, style: { text: problems.join(' '), fill: '#f00', font: 'bold 14px sans-serif', backgroundColor: '#fff' } }] : []),
  series: series
};

const chart = echarts.init(document.getElementById('chart'), null, { renderer: 'canvas' });
chart.setOption(option);
</script></body></html>
